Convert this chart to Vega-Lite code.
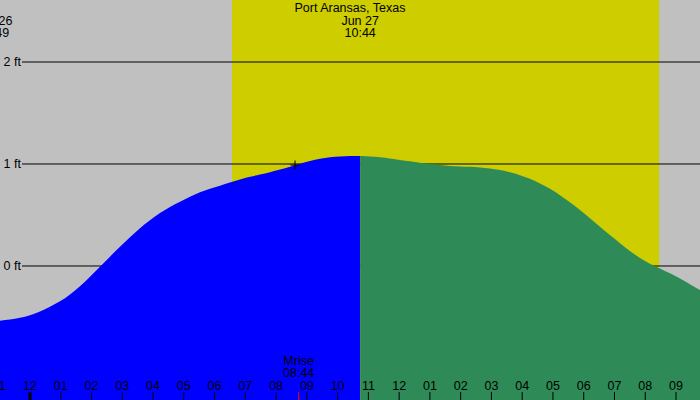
{
  "$schema": "https://vega.github.io/schema/vega-lite/v6.json",
  "width": 700,
  "height": 400,
  "autosize": {"type": "none"},
  "padding": 0,
  "background": "#c0c0c0",
  "config": {
    "view": {"stroke": null},
    "axis": {"disable": true},
    "text": {"font": "Liberation Sans", "fontSize": 12.5, "color": "#000000"}
  },
  "datasets": {
    "tide": [
      {"h": -0.975, "ft": -0.536, "part": "rising"},
      {"h": -0.65, "ft": -0.525, "part": "rising"},
      {"h": -0.325, "ft": -0.51, "part": "rising"},
      {"h": 0.0, "ft": -0.485, "part": "rising"},
      {"h": 0.325, "ft": -0.448, "part": "rising"},
      {"h": 0.65, "ft": -0.4, "part": "rising"},
      {"h": 0.975, "ft": -0.35, "part": "rising"},
      {"h": 1.3, "ft": -0.28, "part": "rising"},
      {"h": 1.625, "ft": -0.203, "part": "rising"},
      {"h": 1.95, "ft": -0.107, "part": "rising"},
      {"h": 2.276, "ft": -0.007, "part": "rising"},
      {"h": 2.6, "ft": 0.092, "part": "rising"},
      {"h": 2.926, "ft": 0.189, "part": "rising"},
      {"h": 3.25, "ft": 0.283, "part": "rising"},
      {"h": 3.576, "ft": 0.373, "part": "rising"},
      {"h": 3.9, "ft": 0.45, "part": "rising"},
      {"h": 4.226, "ft": 0.52, "part": "rising"},
      {"h": 4.55, "ft": 0.58, "part": "rising"},
      {"h": 4.876, "ft": 0.63, "part": "rising"},
      {"h": 5.2, "ft": 0.68, "part": "rising"},
      {"h": 5.527, "ft": 0.725, "part": "rising"},
      {"h": 5.85, "ft": 0.758, "part": "rising"},
      {"h": 6.177, "ft": 0.787, "part": "rising"},
      {"h": 6.5, "ft": 0.818, "part": "rising"},
      {"h": 6.827, "ft": 0.85, "part": "rising"},
      {"h": 7.152, "ft": 0.875, "part": "rising"},
      {"h": 7.48, "ft": 0.897, "part": "rising"},
      {"h": 7.802, "ft": 0.919, "part": "rising"},
      {"h": 8.13, "ft": 0.945, "part": "rising"},
      {"h": 8.453, "ft": 0.974, "part": "rising"},
      {"h": 8.78, "ft": 1.003, "part": "rising"},
      {"h": 9.103, "ft": 1.032, "part": "rising"},
      {"h": 9.43, "ft": 1.052, "part": "rising"},
      {"h": 9.753, "ft": 1.066, "part": "rising"},
      {"h": 10.08, "ft": 1.074, "part": "rising"},
      {"h": 10.403, "ft": 1.078, "part": "rising"},
      {"h": 10.733, "ft": 1.079, "part": "rising"},
      {"h": 10.733, "ft": 1.079, "part": "falling"},
      {"h": 11.05, "ft": 1.074, "part": "falling"},
      {"h": 11.378, "ft": 1.066, "part": "falling"},
      {"h": 11.7, "ft": 1.053, "part": "falling"},
      {"h": 12.029, "ft": 1.039, "part": "falling"},
      {"h": 12.35, "ft": 1.026, "part": "falling"},
      {"h": 12.679, "ft": 1.013, "part": "falling"},
      {"h": 13.0, "ft": 1.001, "part": "falling"},
      {"h": 13.329, "ft": 0.99, "part": "falling"},
      {"h": 13.65, "ft": 0.981, "part": "falling"},
      {"h": 13.979, "ft": 0.975, "part": "falling"},
      {"h": 14.3, "ft": 0.972, "part": "falling"},
      {"h": 14.629, "ft": 0.968, "part": "falling"},
      {"h": 14.95, "ft": 0.957, "part": "falling"},
      {"h": 15.28, "ft": 0.941, "part": "falling"},
      {"h": 15.6, "ft": 0.92, "part": "falling"},
      {"h": 15.93, "ft": 0.892, "part": "falling"},
      {"h": 16.25, "ft": 0.856, "part": "falling"},
      {"h": 16.58, "ft": 0.811, "part": "falling"},
      {"h": 16.9, "ft": 0.758, "part": "falling"},
      {"h": 17.23, "ft": 0.696, "part": "falling"},
      {"h": 17.55, "ft": 0.625, "part": "falling"},
      {"h": 17.88, "ft": 0.549, "part": "falling"},
      {"h": 18.2, "ft": 0.468, "part": "falling"},
      {"h": 18.53, "ft": 0.385, "part": "falling"},
      {"h": 18.85, "ft": 0.303, "part": "falling"},
      {"h": 19.18, "ft": 0.223, "part": "falling"},
      {"h": 19.5, "ft": 0.147, "part": "falling"},
      {"h": 19.83, "ft": 0.075, "part": "falling"},
      {"h": 20.15, "ft": 0.02, "part": "falling"},
      {"h": 20.48, "ft": -0.023, "part": "falling"},
      {"h": 20.8, "ft": -0.072, "part": "falling"},
      {"h": 21.13, "ft": -0.121, "part": "falling"},
      {"h": 21.45, "ft": -0.178, "part": "falling"},
      {"h": 21.78, "ft": -0.235, "part": "falling"}
    ],
    "levels": [
      {"ft": 0, "label": "0 ft"},
      {"ft": 1, "label": "1 ft"},
      {"ft": 2, "label": "2 ft"}
    ],
    "extremes": [
      {"h": -1.183, "label": "Jun 26|22:49"},
      {"h": 10.733, "label": "Jun 27|10:44"}
    ],
    "hours": [
      {"h": -1, "label": "11"}, {"h": 0, "label": "12"}, {"h": 1, "label": "01"}, {"h": 2, "label": "02"},
      {"h": 3, "label": "03"}, {"h": 4, "label": "04"}, {"h": 5, "label": "05"}, {"h": 6, "label": "06"},
      {"h": 7, "label": "07"}, {"h": 8, "label": "08"}, {"h": 9, "label": "09"}, {"h": 10, "label": "10"},
      {"h": 11, "label": "11"}, {"h": 12, "label": "12"}, {"h": 13, "label": "01"}, {"h": 14, "label": "02"},
      {"h": 15, "label": "03"}, {"h": 16, "label": "04"}, {"h": 17, "label": "05"}, {"h": 18, "label": "06"},
      {"h": 19, "label": "07"}, {"h": 20, "label": "08"}, {"h": 21, "label": "09"}
    ]
  },
  "layer": [
    {
      "data": {"values": [{"h": 6.567, "h2": 20.45}]},
      "mark": {"type": "rect", "color": "#cdcd00"},
      "encoding": {
        "x": {"field": "h", "type": "quantitative", "scale": {"domain": [-0.975, 21.78], "nice": false, "zero": false}},
        "x2": {"field": "h2"}
      }
    },
    {
      "data": {"name": "levels"},
      "mark": {"type": "rule", "color": "#000000", "strokeWidth": 1},
      "encoding": {
        "y": {"field": "ft", "type": "quantitative", "scale": {"domain": [-1.314, 2.608], "nice": false, "zero": false}},
        "x": {"datum": -0.26, "type": "quantitative"},
        "x2": {"datum": 21.78}
      }
    },
    {
      "data": {"name": "tide"},
      "mark": {"type": "area", "interpolate": "basis"},
      "encoding": {
        "x": {"field": "h", "type": "quantitative"},
        "y": {"field": "ft", "type": "quantitative"},
        "y2": {"datum": -1.314},
        "color": {"field": "part", "type": "nominal", "scale": {"domain": ["rising", "falling"], "range": ["#0000ff", "#2e8b57"]}, "legend": null}
      }
    },
    {
      "data": {"name": "levels"},
      "mark": {"type": "text", "align": "right", "baseline": "middle", "dx": -1},
      "encoding": {
        "y": {"field": "ft", "type": "quantitative"},
        "x": {"datum": -0.26, "type": "quantitative"},
        "text": {"field": "label"}
      }
    },
    {
      "data": {"values": [{"h": 10.40, "label": "Port Aransas, Texas"}]},
      "mark": {"type": "text", "align": "center", "baseline": "top"},
      "encoding": {
        "x": {"field": "h", "type": "quantitative"},
        "y": {"datum": 2.585, "type": "quantitative"},
        "text": {"field": "label"}
      }
    },
    {
      "data": {"name": "extremes"},
      "mark": {"type": "text", "align": "center", "baseline": "top", "lineBreak": "|", "lineHeight": 12},
      "encoding": {
        "x": {"field": "h", "type": "quantitative"},
        "y": {"datum": 2.46, "type": "quantitative"},
        "text": {"field": "label"}
      }
    },
    {
      "data": {"values": [{"h": 8.733, "label": "Mrise|08:44"}]},
      "mark": {"type": "text", "align": "center", "baseline": "top", "lineBreak": "|", "lineHeight": 12},
      "encoding": {
        "x": {"field": "h", "type": "quantitative"},
        "y": {"datum": -0.87, "type": "quantitative"},
        "text": {"field": "label"}
      }
    },
    {
      "data": {"name": "hours"},
      "mark": {"type": "text", "align": "center", "baseline": "alphabetic"},
      "encoding": {
        "x": {"field": "h", "type": "quantitative"},
        "y": {"datum": -1.216, "type": "quantitative"},
        "text": {"field": "label"}
      }
    },
    {
      "data": {"name": "hours"},
      "mark": {"type": "rule", "color": "#000000", "strokeWidth": 1},
      "encoding": {
        "x": {"field": "h", "type": "quantitative"},
        "y": {"datum": -1.235, "type": "quantitative"},
        "y2": {"datum": -1.314}
      }
    },
    {
      "data": {"values": [{"h": 8.733}]},
      "mark": {"type": "rule", "color": "#ff0000", "strokeWidth": 1},
      "encoding": {
        "x": {"field": "h", "type": "quantitative"},
        "y": {"datum": -1.235, "type": "quantitative"},
        "y2": {"datum": -1.314}
      }
    },
    {
      "data": {"values": [{"h": 0}]},
      "mark": {"type": "rule", "color": "#000000", "strokeWidth": 3},
      "encoding": {
        "x": {"field": "h", "type": "quantitative"},
        "y": {"datum": -1.235, "type": "quantitative"},
        "y2": {"datum": -1.314}
      }
    },
    {
      "data": {"values": [{"h": 8.615, "ft": 0.99}]},
      "mark": {"type": "point", "shape": "M-1,0L1,0M0,-1L0,1", "size": 81, "filled": false, "stroke": "#000000", "strokeWidth": 1, "opacity": 1},
      "encoding": {
        "x": {"field": "h", "type": "quantitative"},
        "y": {"field": "ft", "type": "quantitative"}
      }
    }
  ]
}
